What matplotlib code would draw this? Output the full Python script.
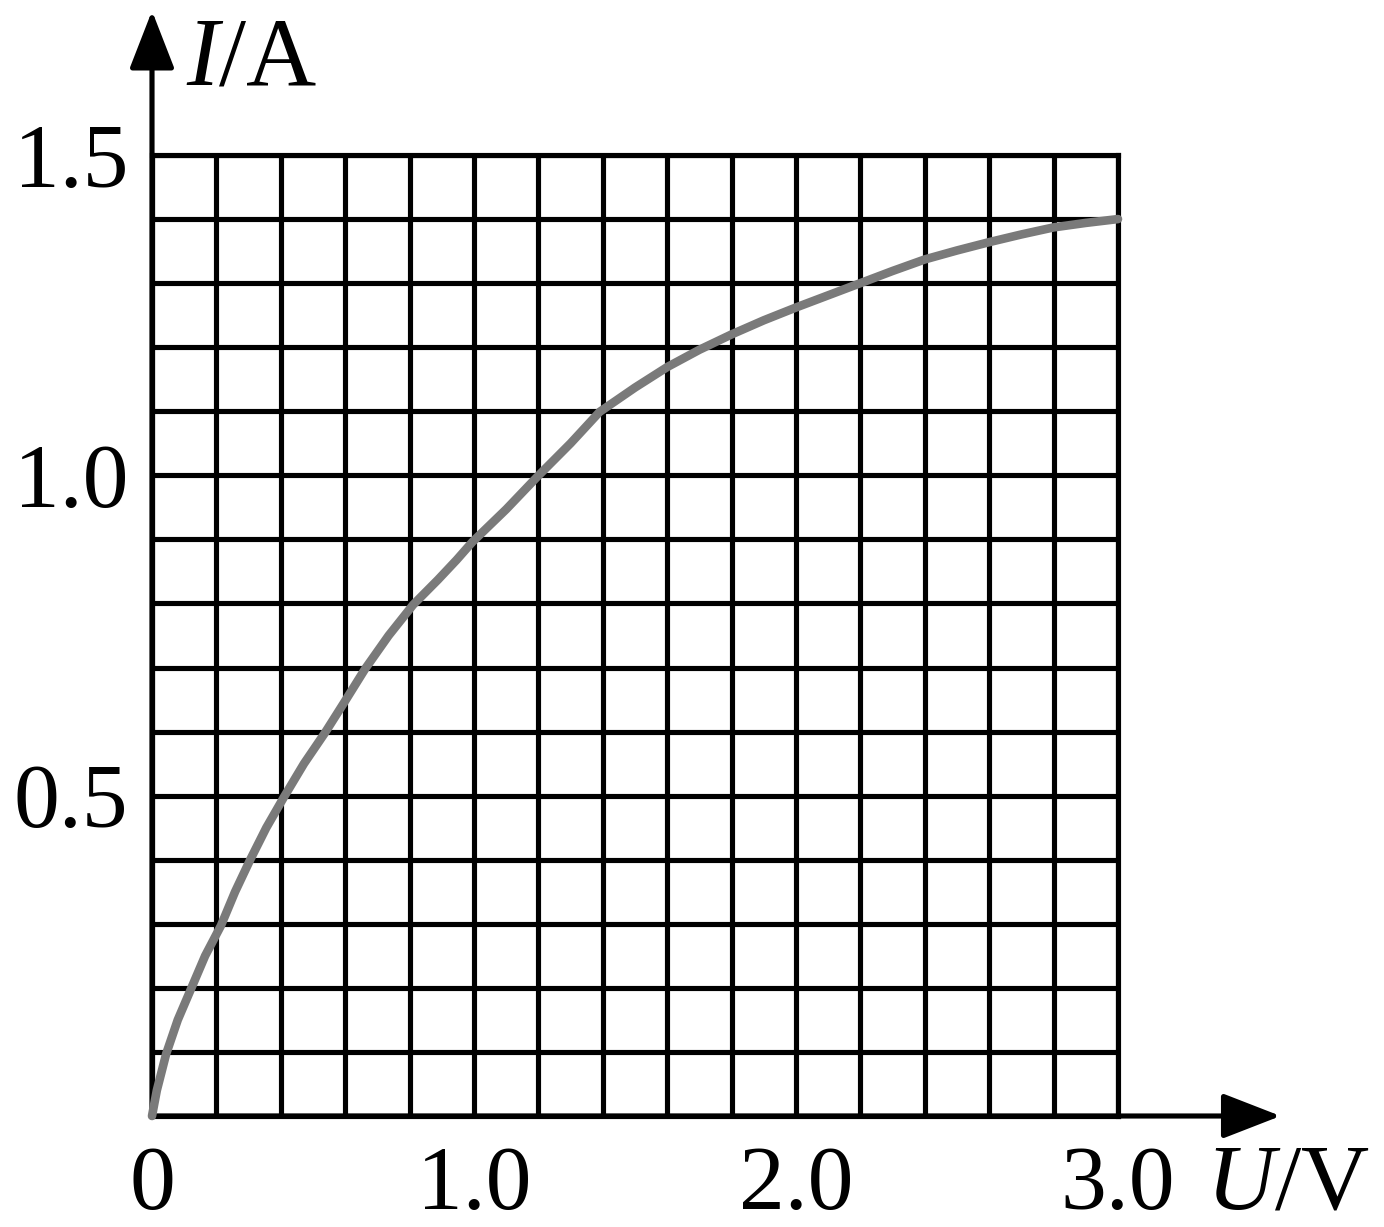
"""
I-U curve on a square grid, drawn like a textbook figure.
"""

import numpy as np
import matplotlib
matplotlib.use("Agg")
import matplotlib.pyplot as plt

plt.rcParams["font.family"] = ["Liberation Serif", "DejaVu Serif"]
plt.rcParams["mathtext.fontset"] = "custom"
plt.rcParams["mathtext.rm"] = "Liberation Serif"
plt.rcParams["mathtext.it"] = "Liberation Serif:italic"

# values (U in V, I in A)
voltage = [0.0, 0.015, 0.044, 0.08, 0.12, 0.165, 0.214, 0.258, 0.305, 0.355,
           0.41, 0.472, 0.537, 0.60, 0.662, 0.735, 0.811, 0.888, 0.946, 0.995,
           1.1, 1.195, 1.3, 1.39, 1.5, 1.6, 1.7, 1.8, 1.9, 2.0,
           2.1, 2.2, 2.3, 2.4, 2.5, 2.6, 2.7, 2.8, 2.9, 3.0]
current = [0.0, 0.04, 0.097, 0.15, 0.197, 0.25, 0.297, 0.35, 0.40, 0.45,
           0.498, 0.55, 0.598, 0.648, 0.698, 0.75, 0.798, 0.837, 0.868, 0.896,
           0.947, 0.997, 1.05, 1.099, 1.137, 1.169, 1.196, 1.22, 1.242, 1.262,
           1.281, 1.30, 1.319, 1.337, 1.351, 1.364, 1.376, 1.387, 1.394, 1.40]

x_labels = ["0", "1.0", "2.0", "3.0"]

W, H = 1384, 1227
fig = plt.figure(figsize=(W / 100, H / 100), dpi=100)
ax = fig.add_axes([152 / W, 1 - 1116 / H, 966 / W, 961 / H])

LW = 3.7
ax.set_xlim(0, 3.0)
ax.set_ylim(0, 1.5)

# grid every 0.2 V / 0.1 A, labels only on the whole numbers
ax.set_xticks(np.round(np.arange(0, 3.0001, 0.2), 2))
ax.set_yticks(np.round(np.arange(0, 1.5001, 0.1), 2))
ax.set_xticklabels([x_labels[int(round(v))] if abs(v - round(v)) < 1e-6 else ""
                    for v in ax.get_xticks()])
ax.set_yticklabels([f"{v:.1f}" if (abs(v * 2 - round(v * 2)) < 1e-6 and v > 0) else ""
                    for v in ax.get_yticks()])
ax.tick_params(length=0, labelsize=66, colors="black")
ax.tick_params(axis="x", pad=21)
ax.tick_params(axis="y", pad=17)
ax.grid(True, color="black", linewidth=LW)
for s in ax.spines.values():
    s.set_linewidth(LW)
    s.set_color("black")
ax.set_axisbelow(True)

ax.plot(voltage, current, color="#7a7a7a", linewidth=6.2,
        solid_capstyle="round", solid_joinstyle="round", zorder=5, clip_on=False)

# arrowed axes
arrow = dict(arrowstyle="-|>,head_length=0.9,head_width=0.35", color="black",
             lw=LW, mutation_scale=40, shrinkA=0, shrinkB=0)
ax.annotate("", xy=(3.505, 0), xytext=(0, 0), arrowprops=arrow,
            annotation_clip=False)
ax.annotate("", xy=(0, 1.725), xytext=(0, 0), arrowprops=arrow,
            annotation_clip=False)

fig.text(186 / W, 1 - 84 / H, r"$I$/A", fontsize=70, va="baseline", ha="left")
fig.text(1206 / W, 1 - 1209 / H, r"$U$/V", fontsize=68, va="baseline", ha="left")

fig.savefig("out.png", dpi=100, facecolor="white")
